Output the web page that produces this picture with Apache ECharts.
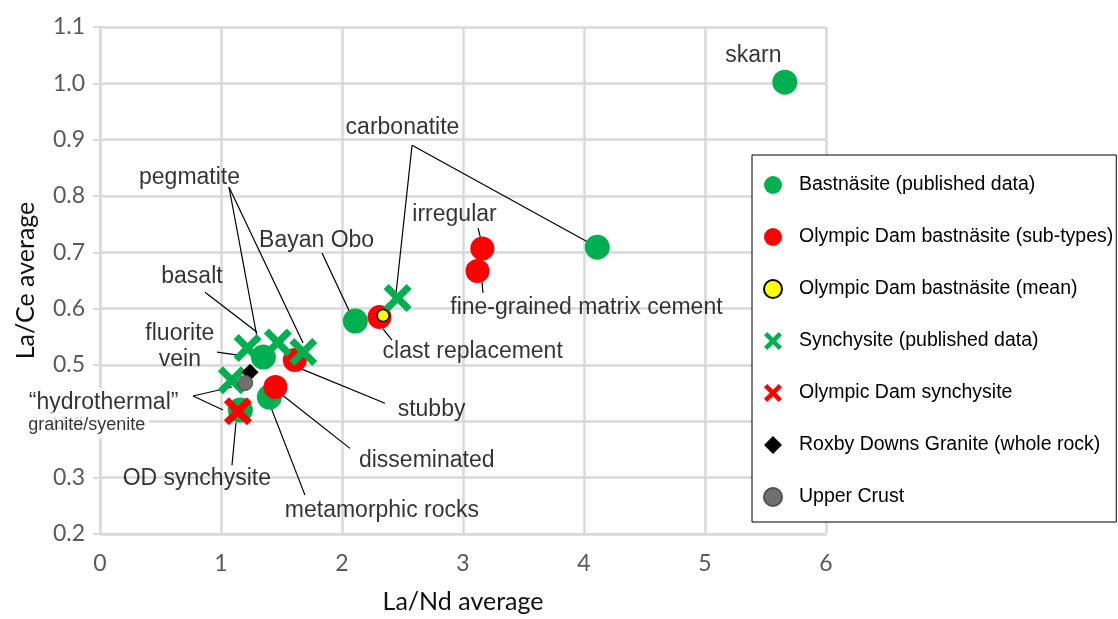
<!DOCTYPE html>
<html>
<head>
<meta charset="utf-8">
<script src="https://cdn.jsdelivr.net/npm/echarts@6/dist/echarts.min.js"></script>
<style>
  html, body { margin: 0; padding: 0; background: #ffffff; }
  #chart { width: 1118px; height: 619px; }
</style>
</head>
<body>
<div id="chart"></div>
<script>
// Each point is [La/Nd average, La/Ce average]
const bastnasitePublished  = [[5.66, 1.002], [4.11, 0.709], [2.11, 0.578], [1.35, 0.514], [1.40, 0.443], [1.16, 0.420]];
const odBastnasiteSubtypes = [[3.16, 0.707], [3.12, 0.667], [2.31, 0.585], [1.61, 0.509], [1.45, 0.461]];
const odBastnasiteMean     = [[2.34, 0.588]];
const synchysitePublished  = [[2.46, 0.619], [1.22, 0.530], [1.47, 0.540], [1.68, 0.523], [1.09, 0.473]];
const odSynchysite         = [[1.14, 0.418]];
const roxbyDownsGranite    = [[1.24, 0.487]];
const upperCrust           = [[1.20, 0.468]];

const seriesNames = [
  'Bastnäsite (published data)',
  'Olympic Dam bastnäsite (sub-types)',
  'Olympic Dam bastnäsite (mean)',
  'Synchysite (published data)',
  'Olympic Dam synchysite',
  'Roxby Downs Granite (whole rock)',
  'Upper Crust'
];

// Axis ranges and titles
const xRange = [0, 6, 1];
const yRange = [0.2, 1.1, 0.1];
const xTitle = 'La/Nd average';
const yTitle = 'La/Ce average';

// Annotation texts: [text, La/Nd, La/Ce, font size, white box padding or null]
const noteTexts = [
  ['skarn', 5.40, 1.050, 23, null],
  ['carbonatite', 2.50, 0.921, 23, null],
  ['pegmatite', 0.74, 0.832, 23, null],
  ['irregular', 2.93, 0.766, 23, null],
  ['Bayan Obo', 1.79, 0.720, 23, null],
  ['basalt', 0.76, 0.656, 23, null],
  ['fine-grained matrix cement', 4.02, 0.601, 23, null],
  ['fluorite', 0.66, 0.556, 23, null],
  ['vein', 0.66, 0.509, 23, null],
  ['clast replacement', 3.08, 0.523, 23, null],
  ['\u201chydrothermal\u201d', 0.03, 0.434, 23, [1, 2, 4, 2]],
  ['granite/syenite', -0.11, 0.393, 18, [4, 4, 4, 4]],
  ['stubby', 2.74, 0.420, 23, null],
  ['disseminated', 2.70, 0.331, 23, null],
  ['OD synchysite', 0.80, 0.299, 23, null],
  ['metamorphic rocks', 2.33, 0.242, 23, null]
];

// Leader lines from annotation texts to points: [[from], [to]]
const leaderLines = [
  [[2.579, 0.890], [4.11, 0.709]],
  [[2.579, 0.890], [2.446, 0.626]],
  [[1.066, 0.816], [1.306, 0.540]],
  [[1.066, 0.816], [1.678, 0.539]],
  [[3.124, 0.743], [3.149, 0.722]],
  [[1.835, 0.699], [2.083, 0.585]],
  [[0.868, 0.629], [1.298, 0.558]],
  [[3.165, 0.628], [3.157, 0.647]],
  [[0.967, 0.523], [1.157, 0.517]],
  [[2.413, 0.544], [2.339, 0.564]],
  [[0.769, 0.445], [1.091, 0.461]],
  [[0.769, 0.445], [1.017, 0.420]],
  [[2.355, 0.432], [1.653, 0.494]],
  [[2.066, 0.352], [1.488, 0.450]],
  [[1.091, 0.322], [1.124, 0.398]],
  [[1.694, 0.269], [1.405, 0.429]]
];

const GREEN = '#00b050';
const RED = '#ff0000';
const CROSS = 'path://M0,18 L18,0 L50,32 L82,0 L100,18 L68,50 L100,82 L82,100 L50,68 L18,100 L0,82 L32,50 Z';
const axisFont = 'Lato, "Open Sans", sans-serif';
const noteFont = '"Liberation Sans", Arial, sans-serif';

function pointSeries(name, data, symbol, size, style, z) {
  return {
    name: name,
    type: 'scatter',
    data: data,
    symbol: symbol,
    symbolSize: size,
    itemStyle: Object.assign({ opacity: 1 }, style),
    z: z,
    clip: false,
    emphasis: { disabled: true }
  };
}

const chart = echarts.init(document.getElementById('chart'), null, { renderer: 'canvas' });

chart.setOption({
  animation: false,
  backgroundColor: '#ffffff',
  grid: { left: 100, right: 292, top: 27, bottom: 85 },
  xAxis: {
    type: 'value',
    min: xRange[0], max: xRange[1], interval: xRange[2],
    name: xTitle,
    nameLocation: 'middle',
    nameGap: 55,
    nameTextStyle: { fontFamily: axisFont, fontSize: 25, color: '#111' },
    axisLine: { show: true, onZero: false, lineStyle: { color: '#d9d9d9', width: 2 } },
    axisTick: { show: false },
    axisLabel: { fontFamily: axisFont, fontSize: 23, color: '#595959', margin: 18 },
    splitLine: { show: true, lineStyle: { color: '#d9d9d9', width: 2.5 } }
  },
  yAxis: {
    type: 'value',
    min: yRange[0], max: yRange[1], interval: yRange[2],
    name: yTitle,
    nameLocation: 'middle',
    nameGap: 62,
    nameRotate: 90,
    nameTextStyle: { fontFamily: axisFont, fontSize: 25, color: '#111' },
    axisLine: { show: true, onZero: false, lineStyle: { color: '#d9d9d9', width: 2 } },
    axisTick: { show: true, length: 7, lineStyle: { color: '#d9d9d9', width: 2 } },
    axisLabel: {
      fontFamily: axisFont, fontSize: 23, color: '#595959', margin: 15,
      formatter: v => v.toFixed(1)
    },
    splitLine: { show: true, lineStyle: { color: '#d9d9d9', width: 2.5 } }
  },
  legend: {
    data: seriesNames,
    orient: 'vertical',
    left: 752,
    top: 155,
    padding: [15, 3, 10, 11],
    itemWidth: 18,
    itemHeight: 18,
    itemGap: 22,
    backgroundColor: '#ffffff',
    borderColor: '#000000',
    borderWidth: 1,
    selectedMode: false,
    z: 20,
    textStyle: {
      fontFamily: '"Liberation Sans", Arial, sans-serif',
      fontSize: 19.5,
      lineHeight: 30,
      color: '#000',
      padding: [0, 0, 0, 12]
    }
  },
  series: [
    {
      type: 'lines',
      coordinateSystem: 'cartesian2d',
      silent: true,
      clip: false,
      z: 1,
      lineStyle: { color: '#000000', width: 1.2, opacity: 1 },
      data: leaderLines.map(c => ({ coords: c }))
    },
    pointSeries(seriesNames[0], bastnasitePublished, 'circle', 25, { color: GREEN }, 2),
    pointSeries(seriesNames[1], odBastnasiteSubtypes, 'circle', 24, { color: RED }, 3),
    pointSeries(seriesNames[2], odBastnasiteMean, 'circle', 12, { color: '#ffff00', borderColor: '#000', borderWidth: 1.5 }, 6),
    pointSeries(seriesNames[3], synchysitePublished, CROSS, 28, { color: GREEN }, 4),
    pointSeries(seriesNames[4], odSynchysite, CROSS, 28, { color: RED }, 5),
    pointSeries(seriesNames[5], roxbyDownsGranite, 'diamond', 17, { color: '#000000' }, 7),
    pointSeries(seriesNames[6], upperCrust, 'circle', 15, { color: '#707070', borderColor: '#505050', borderWidth: 1 }, 8),
    {
      name: 'notes',
      type: 'scatter',
      silent: true,
      clip: false,
      z: 9,
      symbolSize: 1,
      itemStyle: { color: 'rgba(0,0,0,0)' },
      label: {
        show: true,
        position: 'inside',
        color: '#000000',
        fontFamily: noteFont,
        formatter: p => p.name
      },
      data: noteTexts.map(n => ({
        name: n[0],
        value: [n[1], n[2]],
        label: n[4]
          ? { fontSize: n[3], backgroundColor: '#ffffff', padding: n[4] }
          : { fontSize: n[3] }
      }))
    }
  ]
});
</script>
</body>
</html>
